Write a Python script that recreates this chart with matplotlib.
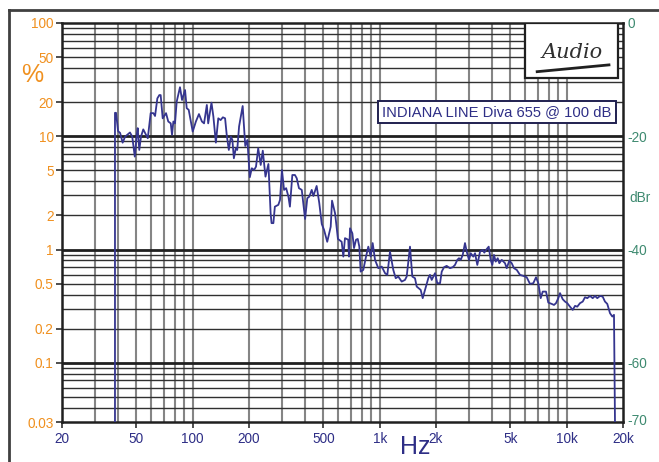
import matplotlib
matplotlib.use('Agg')
import matplotlib.pyplot as plt
from matplotlib.patches import Rectangle
from matplotlib.lines import Line2D
import numpy as np

plt.rcParams['font.family'] = ['Liberation Sans', 'DejaVu Sans']

# distortion curve: frequency (Hz) and THD (%)
freq = [38.4, 38.4, 38.9, 39.9, 40.9, 42.2, 43.5, 46.2, 47.5, 49.0, 50.2, 50.8, 51.8, 52.9,
        54.4, 55.8, 57.5, 59.6, 61.6, 62.9, 64.7, 66.3, 67.4, 69.1, 72.0, 74.0, 76.3, 77.5,
        78.8, 80.4, 82.1, 85.5, 87.7, 91.0, 92.9, 95.2, 100, 104, 108, 112, 115, 119, 121,
        126, 129, 133, 137, 141, 145, 149, 152, 156, 160, 163, 166, 170, 173, 177, 185, 191,
        196, 202, 207, 213, 218, 224, 231, 237, 245, 254, 261, 264, 270, 275, 287, 293, 300,
        308, 316, 325, 331, 341, 352, 360, 370, 383, 399, 410, 420, 433, 442, 460, 475, 490,
        504, 524, 547, 556, 577, 598, 626, 639, 652, 679, 685, 694, 714, 729, 747, 763, 778,
        791, 817, 845, 869, 895, 917, 944, 983, 1025, 1068, 1098, 1135, 1182, 1218, 1257,
        1311, 1365, 1394, 1452, 1494, 1544, 1577, 1656, 1698, 1768, 1819, 1857, 1897, 1976,
        2032, 2102, 2146, 2208, 2281, 2376, 2457, 2527, 2600, 2655, 2711, 2779, 2858, 2920,
        3003, 3066, 3166, 3234, 3326, 3439, 3556, 3627, 3704, 3827, 3922, 4000, 4085, 4172,
        4276, 4362, 4493, 4679, 4778, 4932, 5080, 5226, 5404, 5628, 5860, 6110, 6364, 6628,
        6853, 7050, 7261, 7442, 7750, 7972, 8312, 8551, 8765, 9016, 9208, 9520, 9793, 10070,
        10410, 10770, 11080, 11390, 11780, 12180, 12530, 12890, 13320, 13770, 14170, 14570,
        15070, 15570, 16020, 16480, 17040, 17530, 17900, 18120]
thd = [0.03, 16.1, 16.1, 11.1, 10.7, 8.78, 9.92, 10.8, 9.92, 6.61, 10.3, 11.8, 7.57, 9.92,
       11.5, 10.6, 9.60, 16.0, 16.0, 15.1, 21.6, 23.1, 23.1, 14.4, 16.0, 13.5, 13.0, 10.3,
       13.5, 13.0, 20.2, 27.1, 20.9, 25.6, 17.7, 17.1, 11.0, 13.5, 15.7, 13.5, 13.0, 18.9, 13.0,
       19.8, 14.9, 8.78, 14.4, 13.9, 14.7, 14.4, 10.3, 7.57, 9.92, 9.27, 6.39, 7.84, 7.57, 12.2,
       18.5, 8.21, 9.27, 4.35, 5.22, 5.04, 5.39, 7.84, 5.58, 7.46, 4.40, 5.69, 2.09, 1.71, 1.71,
       2.39, 2.48, 2.74, 5.04, 3.36, 3.48, 2.93, 2.39, 4.55, 4.55, 4.26, 3.48, 3.36, 1.86, 2.84,
       2.93, 3.36, 2.97, 3.64, 2.58, 1.68, 1.49, 1.17, 1.59, 2.70, 2.09, 1.24, 1.17, 0.866, 1.26,
       1.22, 0.866, 1.54, 1.39, 1.03, 1.22, 1.24, 1.06, 0.638, 0.661, 0.866, 1.06, 0.866, 1.14,
       0.810, 0.684, 0.707, 0.618, 0.597, 0.958, 0.661, 0.558, 0.577, 0.521, 0.539, 0.577,
       1.06, 0.577, 0.558, 0.471, 0.440, 0.372, 0.471, 0.558, 0.597, 0.539, 0.618, 0.504,
       0.504, 0.638, 0.698, 0.717, 0.684, 0.698, 0.731, 0.810, 0.838, 0.810, 0.896, 1.14,
       0.958, 0.810, 0.927, 0.866, 0.927, 0.731, 0.958, 0.992, 0.939, 0.992, 1.06, 0.810,
       0.731, 0.896, 0.782, 0.838, 0.757, 0.810, 0.757, 0.684, 0.798, 0.757, 0.684, 0.661,
       0.597, 0.585, 0.569, 0.497, 0.504, 0.569, 0.504, 0.372, 0.425, 0.425, 0.340, 0.331,
       0.324, 0.336, 0.372, 0.412, 0.364, 0.347, 0.336, 0.313, 0.293, 0.318, 0.313, 0.336,
       0.347, 0.379, 0.372, 0.389, 0.372, 0.389, 0.372, 0.389, 0.384, 0.347, 0.331, 0.274,
       0.256, 0.265, 0.03]

x_ticks = [20, 50, 100, 200, 500, 1000, 2000, 5000, 10000, 20000]
x_labels = ['20', '50', '100', '200', '500', '1k', '2k', '5k', '10k', '20k']
y_ticks = [0.03, 0.1, 0.2, 0.5, 1, 2, 5, 10, 20, 50, 100]
y_labels = ['0.03', '0.1', '0.2', '0.5', '1', '2', '5', '10', '20', '50', '100']
dbr_ticks = [100, 10, 1, 0.1, 0.0316]
dbr_labels = ['0', '-20', '-40', '-60', '-70']

orange = '#F0901E'
navy = '#2E2E86'
teal = '#3E8A70'
curve = '#35358F'

fig = plt.figure(figsize=(6.59, 4.62), dpi=100)
ax = fig.add_axes([62/659, 40/462, 561/659, 399/462])
ax.set_xscale('log')
ax.set_yscale('log')
ax.set_xlim(20, 20000)
ax.set_ylim(0.03, 100)

# grid drawn by hand: gray verticals, dark horizontals, decades thicker
for dec in [10, 100, 1000, 10000]:
    for m in range(1, 10):
        v = dec * m
        if 20 < v < 20000:
            ax.axvline(v, color='#858585', lw=1.5, zorder=1)
for dec in [0.01, 0.1, 1, 10]:
    for m in range(1, 10):
        v = dec * m
        if 0.03 < v < 100:
            if m == 1:
                ax.axhline(v, color='#202020', lw=2.0, zorder=1.2)
            else:
                ax.axhline(v, color='#303030', lw=1.0, zorder=1.1)

ax.plot(freq, thd, color=curve, lw=1.3, zorder=3, solid_joinstyle='round')

ax.set_xticks(x_ticks)
ax.set_xticklabels(x_labels)
ax.set_yticks(y_ticks)
ax.set_yticklabels(y_labels)
ax.xaxis.set_minor_locator(plt.NullLocator())
ax.yaxis.set_minor_locator(plt.NullLocator())
ax.tick_params(axis='x', length=4, width=1.2, color='#303030', labelsize=9.8,
               labelcolor=navy, pad=3)
ax.tick_params(axis='y', length=4, width=1.2, color='#303030', labelsize=9.8,
               labelcolor=orange, pad=2)
for s in ax.spines.values():
    s.set_color('#202020')
    s.set_linewidth(1.8)

ax2 = ax.twinx()
ax2.set_yscale('log')
ax2.set_ylim(0.03, 100)
ax2.set_yticks(dbr_ticks)
ax2.set_yticklabels(dbr_labels)
ax2.yaxis.set_minor_locator(plt.NullLocator())
ax2.tick_params(axis='y', length=0, labelsize=9.8, labelcolor=teal, pad=3)
for s in ax2.spines.values():
    s.set_visible(False)

fig.text(32/659, 1 - 75/462, '%', color=orange, fontsize=18, ha='center', va='center')
fig.text(640/659, 1 - 198/462, 'dBr', color=teal, fontsize=9.8, ha='center', va='center')
fig.text(415/659, 1 - 447/462, 'Hz', color=navy, fontsize=18, ha='center', va='center')

# title box
ax.text(0.980, 0.777, 'INDIANA LINE Diva 655 @ 100 dB', transform=ax.transAxes,
        ha='right', va='center', fontsize=10.6, color=navy, zorder=6,
        bbox=dict(boxstyle='square,pad=0.28', fc='white', ec='#202050', lw=1.4))

# logo box
ax.add_patch(Rectangle((463/561, 1 - 55/399), 93/561, 55/399, transform=ax.transAxes,
                       fc='white', ec='#202020', lw=1.6, zorder=6))
ax.text(0.909, 0.925, 'Audio', transform=ax.transAxes, ha='center', va='center',
        fontsize=15, style='italic', color='#303030', zorder=7,
        fontfamily=['DejaVu Serif'])
ax.add_line(Line2D([0.847, 0.975], [0.878, 0.895], transform=ax.transAxes,
                   color='#202020', lw=2, zorder=7))

# outer frame
fig.add_artist(Line2D([9/659, 9/659], [0, 1 - 10/462], color='#404040', lw=2))
fig.add_artist(Line2D([9/659, 1], [1 - 10/462, 1 - 10/462], color='#404040', lw=2))

fig.savefig('out.png', dpi=100)
